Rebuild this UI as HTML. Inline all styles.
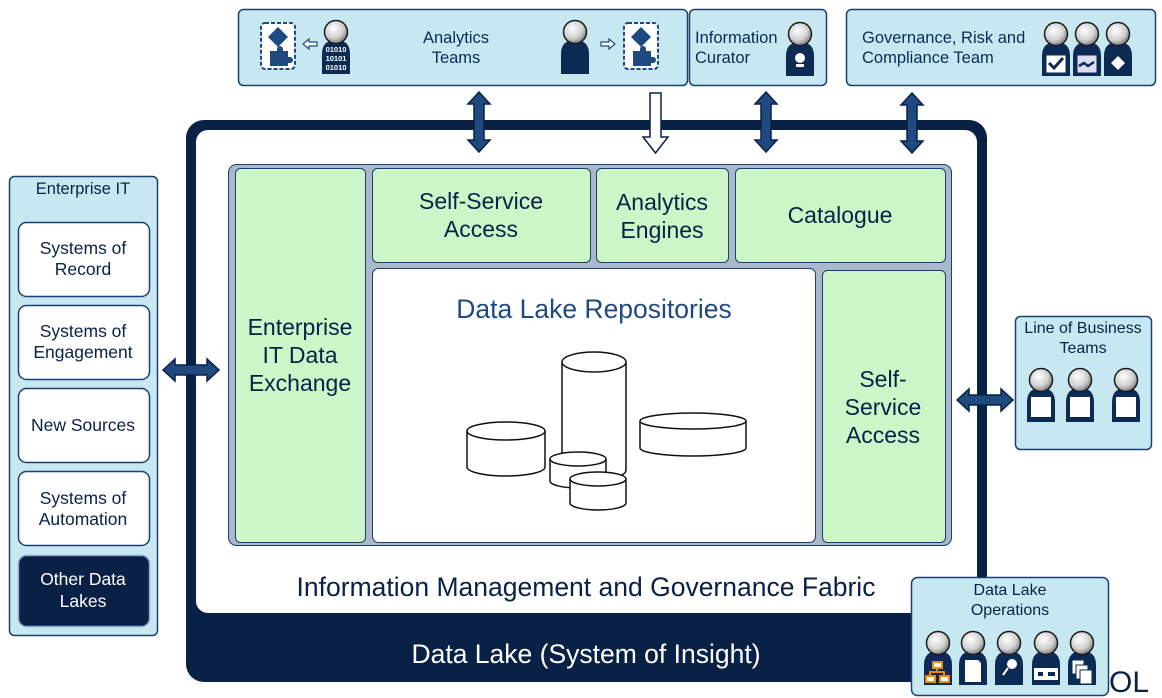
<!DOCTYPE html>
<html><head><meta charset="utf-8"><style>
html,body{margin:0;padding:0;background:#fff;}
svg{display:block;font-family:"Liberation Sans",sans-serif;}
</style></head><body>
<svg width="1162" height="698" viewBox="0 0 1162 698" xmlns="http://www.w3.org/2000/svg">
<defs>
<radialGradient id="hg" cx="0.4" cy="0.35" r="0.7">
<stop offset="0" stop-color="#ffffff"/><stop offset="0.6" stop-color="#d0d0d0"/><stop offset="1" stop-color="#707070"/>
</radialGradient>
<g id="p">
<path d="M0,54 L0,34 Q0,20 14,20 Q28,20 28,34 L28,54 Z" fill="#0d2a55"/>
<circle cx="14" cy="12" r="11.5" fill="url(#hg)" stroke="#1a1a1a" stroke-width="1.5"/>
</g>
<g id="dv">
<path d="M0,-30 L-11,-18 L-5,-18 L-5,18 L-11,18 L0,30 L11,18 L5,18 L5,-18 L11,-18 Z" fill="#1f4a80" stroke="#0a2146" stroke-width="1.5"/>
</g>
<g id="dh">
<path d="M-28,0 L-16,-11 L-16,-5 L16,-5 L16,-11 L28,0 L16,11 L16,5 L-16,5 L-16,11 Z" fill="#1f4a80" stroke="#0a2146" stroke-width="1.5"/>
</g>
<g id="pz">
<rect x="0" y="0" width="34" height="46" rx="4" fill="#fff" stroke="#1f4a80" stroke-width="2" stroke-dasharray="4,2"/>
<path d="M17,4 L27,14 L17,24 L7,14 Z" fill="#1f4a80"/>
<path d="M9,28 h7 v-2 a3,3 0 0 1 6,0 v2 h5 v6 h2 a3,3 0 0 1 0,6 h-2 v3 h-18 z" fill="#1f4a80"/>
</g>
</defs>

<!-- Analytics Teams -->
<rect x="238.5" y="9.5" width="449" height="76" rx="5" fill="#c7e8f1" stroke="#1b3f6e" stroke-width="1.5"/>
<text x="456" y="43" font-size="16.5" fill="#0d2a55" text-anchor="middle">Analytics</text>
<text x="456" y="63" font-size="16.5" fill="#0d2a55" text-anchor="middle">Teams</text>
<use href="#pz" x="261" y="23"/>
<use href="#pz" x="624" y="23"/>
<path d="M303,44 l6,-5 v3 h8 v4 h-8 v3 z" fill="#fff" stroke="#1f4a80" stroke-width="1.2"/>
<path d="M615,44 l-6,-5 v3 h-8 v4 h8 v3 z" fill="#fff" stroke="#1f4a80" stroke-width="1.2"/>
<use href="#p" x="322" y="20"/>
<text x="336" y="52" font-size="7.5" fill="#fff" font-weight="bold" text-anchor="middle">01010</text>
<text x="336" y="61" font-size="7.5" fill="#fff" font-weight="bold" text-anchor="middle">10101</text>
<text x="336" y="70" font-size="7.5" fill="#fff" font-weight="bold" text-anchor="middle">01010</text>
<use href="#p" x="561" y="20"/>

<!-- Information Curator -->
<rect x="689.5" y="9.5" width="137" height="76" rx="5" fill="#c7e8f1" stroke="#1b3f6e" stroke-width="1.5"/>
<text x="695" y="43" font-size="16.5" fill="#0d2a55">Information</text>
<text x="695" y="63" font-size="16.5" fill="#0d2a55">Curator</text>
<use href="#p" x="786" y="22"/>
<circle cx="800" cy="58" r="5" fill="#fff"/><rect x="796" y="64" width="8" height="3" fill="#fff"/>

<!-- Governance -->
<rect x="846.5" y="9.5" width="309" height="76" rx="5" fill="#c7e8f1" stroke="#1b3f6e" stroke-width="1.5"/>
<text x="862" y="43" font-size="16.5" fill="#0d2a55">Governance, Risk and</text>
<text x="862" y="63" font-size="16.5" fill="#0d2a55">Compliance Team</text>
<use href="#p" x="1042" y="22"/><rect x="1046" y="55" width="20" height="18" fill="#fff" stroke="#0d2a55"/>
<path d="M1049,63 l5,5 l9,-10" stroke="#0d2a55" stroke-width="3" fill="none"/>
<use href="#p" x="1073" y="22"/><rect x="1077" y="55" width="20" height="18" fill="#dde" stroke="#0d2a55"/>
<path d="M1079,66 l5,-3 l4,3 l6,-4" stroke="#0d2a55" stroke-width="2.5" fill="none"/>
<use href="#p" x="1104" y="22"/><path d="M1118,56 l7,7 l-7,7 l-7,-7 z" fill="#fff"/>

<!-- Main dark -->
<rect x="186" y="120" width="801" height="562" rx="18" fill="#0a2146"/>
<rect x="196" y="130" width="781" height="483" rx="12" fill="#fff"/>
<text x="586" y="663" font-size="26.5" fill="#fff" text-anchor="middle">Data Lake (System of Insight)</text>
<text x="586" y="596" font-size="26.5" fill="#0a2146" text-anchor="middle">Information Management and Governance Fabric</text>

<!-- Gray frame -->
<rect x="228.5" y="164.5" width="723" height="381" rx="8" fill="#a9b8ca" stroke="#1b3f6e" stroke-width="1"/>
<g stroke="#1b3f6e" stroke-width="1" fill="#ccf5c8">
<rect x="235.5" y="168.5" width="130" height="374" rx="5"/>
<rect x="372.5" y="168.5" width="218" height="94" rx="5"/>
<rect x="596.5" y="168.5" width="132" height="94" rx="5"/>
<rect x="735.5" y="168.5" width="210" height="94" rx="5"/>
<rect x="822.5" y="270.5" width="123" height="272" rx="5"/>
<rect x="372.5" y="268.5" width="443" height="274" rx="6" fill="#fff"/>
</g>
<g font-size="23" fill="#0a2146" text-anchor="middle">
<text x="300" y="335">Enterprise</text><text x="300" y="363">IT Data</text><text x="300" y="391">Exchange</text>
<text x="481" y="209">Self-Service</text><text x="481" y="237">Access</text>
<text x="662" y="210">Analytics</text><text x="662" y="238">Engines</text>
<text x="840" y="223">Catalogue</text>
<text x="883" y="387">Self-</text><text x="883" y="415">Service</text><text x="883" y="443">Access</text>
</g>
<text x="594" y="318" font-size="26.5" fill="#1f4a80" text-anchor="middle">Data Lake Repositories</text>

<!-- Cylinders -->
<g fill="#fff" stroke="#111" stroke-width="1.5">
<path d="M562,362 v108 a32,10 0 0 0 64,0 v-108"/><ellipse cx="594" cy="362" rx="32" ry="10"/>
<path d="M467,431 v36 a39,9 0 0 0 78,0 v-36"/><ellipse cx="506" cy="431" rx="39" ry="9"/>
<path d="M640,421 v27 a53,8 0 0 0 106,0 v-27"/><ellipse cx="693" cy="421" rx="53" ry="8"/>
<path d="M550,459 v22 a28,7 0 0 0 56,0 v-22"/><ellipse cx="578" cy="459" rx="28" ry="7"/>
<path d="M570,479 v24 a28,7 0 0 0 56,0 v-24"/><ellipse cx="598" cy="479" rx="28" ry="7"/>
</g>

<!-- Arrows -->
<use href="#dv" x="479" y="122"/>
<use href="#dv" x="766" y="122"/>
<use href="#dv" x="912" y="123"/>
<path d="M650,93 h11 v44 h7 l-12.5,16 l-12.5,-16 h7 z" fill="#fff" stroke="#0a2146" stroke-width="1.5"/>
<use href="#dh" x="191" y="370"/>
<use href="#dh" x="985" y="400"/>

<!-- Enterprise IT -->
<rect x="9.5" y="176.5" width="148" height="459" rx="5" fill="#c7e8f1" stroke="#1b3f6e" stroke-width="1.5"/>
<text x="83" y="194" font-size="16.5" fill="#0a2146" text-anchor="middle">Enterprise IT</text>
<g stroke="#1b3f6e" stroke-width="1.5" fill="#fff">
<rect x="18.5" y="222.5" width="131" height="74" rx="8"/>
<rect x="18.5" y="305.5" width="131" height="74" rx="8"/>
<rect x="18.5" y="388.5" width="131" height="74" rx="8"/>
<rect x="18.5" y="471.5" width="131" height="74" rx="8"/>
<rect x="18.5" y="555.5" width="131" height="71" rx="8" fill="#0a2146" stroke="#8fa8c8"/>
</g>
<g font-size="17.5" fill="#0a2146" text-anchor="middle">
<text x="83" y="254">Systems of</text><text x="83" y="275">Record</text>
<text x="83" y="337">Systems of</text><text x="83" y="358">Engagement</text>
<text x="83" y="431">New Sources</text>
<text x="83" y="504">Systems of</text><text x="83" y="525">Automation</text>
<text x="83" y="585" fill="#fff">Other Data</text><text x="83" y="607" fill="#fff">Lakes</text>
</g>

<!-- Line of Business -->
<rect x="1015.5" y="316.5" width="136" height="133" rx="5" fill="#c7e8f1" stroke="#1b3f6e" stroke-width="1.5"/>
<text x="1083" y="333" font-size="16" fill="#0a2146" text-anchor="middle">Line of Business</text>
<text x="1083" y="353" font-size="16" fill="#0a2146" text-anchor="middle">Teams</text>
<use href="#p" x="1027" y="368"/><rect x="1031" y="397" width="20" height="20" fill="#fff"/>
<use href="#p" x="1066" y="368"/><rect x="1070" y="397" width="20" height="20" fill="#fff"/>
<use href="#p" x="1112" y="368"/><rect x="1116" y="397" width="20" height="20" fill="#fff"/>

<!-- Data Lake Operations -->
<rect x="911.5" y="577.5" width="197" height="118" rx="6" fill="#c7e8f1" stroke="#1b3f6e" stroke-width="1.5"/>
<text x="1010" y="595" font-size="16" fill="#0a2146" text-anchor="middle">Data Lake</text>
<text x="1010" y="615" font-size="16" fill="#0a2146" text-anchor="middle">Operations</text>
<use href="#p" x="924" y="631"/>
<g stroke="#f08a00" stroke-width="2" fill="#fff"><rect x="933" y="662" width="9" height="6"/><rect x="926" y="676" width="9" height="6"/><rect x="940" y="676" width="9" height="6"/><path d="M937,668 v4 h-7 v4 M937,672 h7 v4" fill="none"/></g>
<use href="#p" x="959" y="631"/><path d="M965,660 h13 l3,3 v19 h-16 z" fill="#fff"/>
<use href="#p" x="995" y="631"/><circle cx="1012" cy="664" r="5" fill="#fff"/><path d="M1008,668 l-5,7" stroke="#fff" stroke-width="2"/>
<use href="#p" x="1032" y="631"/><rect x="1034" y="668" width="24" height="12" fill="#fff"/><rect x="1038" y="672" width="5" height="4" fill="#0d2a55"/><rect x="1048" y="672" width="7" height="4" fill="#0d2a55"/>
<use href="#p" x="1068" y="631"/><rect x="1072" y="660" width="12" height="14" fill="#fff" stroke="#0d2a55"/><rect x="1076" y="665" width="12" height="14" fill="#fff" stroke="#0d2a55"/><rect x="1080" y="670" width="12" height="14" fill="#fff" stroke="#0d2a55"/>
<text x="1109" y="692" font-size="30" fill="#0a2146">OL</text>
</svg>
</body></html>
